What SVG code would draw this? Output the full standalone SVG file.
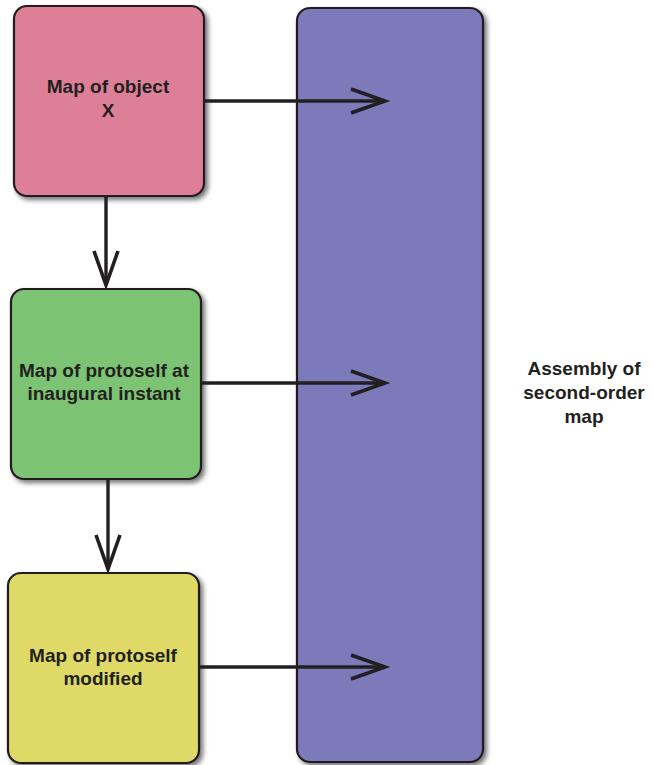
<svg xmlns="http://www.w3.org/2000/svg" width="653" height="765" viewBox="0 0 653 765">
  <style>
    .box { stroke: #231f20; stroke-width: 2.2; filter: url(#shadow); }
    .label { font-family: "Liberation Sans", Arial, sans-serif; font-weight: bold; font-size: 19px; fill: #231f20; text-anchor: middle; }
    .wire { fill: none; stroke: #231f20; stroke-width: 3.4; marker-end: url(#chevron); }
  </style>
  <defs>
    <filter id="shadow" x="-10%" y="-10%" width="130%" height="130%">
      <feDropShadow dx="3" dy="3" stdDeviation="2.5" flood-color="#000" flood-opacity="0.55"/>
    </filter>
    <marker id="chevron" markerUnits="userSpaceOnUse" viewBox="-40 -16 44 32" refX="0" refY="0" markerWidth="44" markerHeight="32" orient="auto" overflow="visible">
      <path d="M-34,-12 L0,0 L-34,12" fill="none" stroke="#231f20" stroke-width="3.6" stroke-linejoin="miter" stroke-miterlimit="10"/>
    </marker>
  </defs>

  <g id="assembly">
    <rect class="box" x="297" y="8" width="186" height="754" rx="13" fill="#7c7abb"/>
    <text class="label" x="584" y="375">Assembly of</text>
    <text class="label" x="584" y="399">second-order</text>
    <text class="label" x="584" y="423">map</text>
  </g>

  <g id="object-map">
    <rect class="box" x="14" y="6" width="190" height="190" rx="13" fill="#dd7f97"/>
    <text class="label" x="108" y="93">Map of object</text>
    <text class="label" x="108" y="117">X</text>
  </g>

  <g id="protoself-inaugural">
    <rect class="box" x="11" y="289" width="190" height="190" rx="13" fill="#7cc473"/>
    <text class="label" x="104" y="377">Map of protoself at</text>
    <text class="label" x="104" y="400">inaugural instant</text>
  </g>

  <g id="protoself-modified">
    <rect class="box" x="8" y="573" width="191" height="190" rx="13" fill="#dfda68"/>
    <text class="label" x="103" y="662">Map of protoself</text>
    <text class="label" x="103" y="685">modified</text>
  </g>

  <g id="connectors">
    <line class="wire" x1="204" y1="101" x2="385" y2="101"/>
    <line class="wire" x1="201" y1="383" x2="385" y2="383"/>
    <line class="wire" x1="199" y1="667" x2="385" y2="667"/>
    <line class="wire" x1="106" y1="196" x2="106" y2="285"/>
    <line class="wire" x1="108" y1="479" x2="108" y2="569"/>
  </g>
</svg>
